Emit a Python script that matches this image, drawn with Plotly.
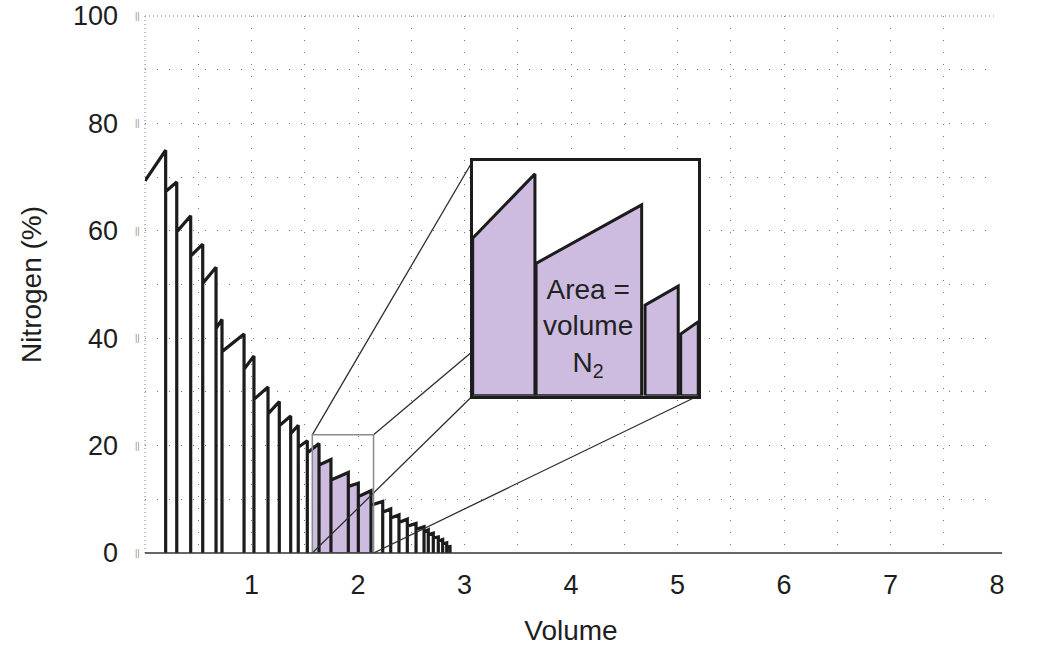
import plotly.graph_objects as go

# ---------------- data ----------------
# breath boundaries along the expired volume axis
breath_x = [0, 0.194, 0.298, 0.429, 0.542, 0.667, 0.723, 0.930, 1.023, 1.155,
            1.261, 1.368, 1.439, 1.524, 1.634, 1.746, 1.909, 2.003, 2.122, 2.232,
            2.307, 2.385, 2.463, 2.545, 2.620, 2.660, 2.707, 2.754, 2.795, 2.833, 2.864]
# N2 concentration at the start and end of each breath (%)
start_n2 = [69.3, 67.3, 59.8, 55.3, 50.2, 41.8, 37.5, 34.2, 28.6, 25.9,
            23.7, 22.2, 19.7, 18.6, 16.4, 13.6, 12.4, 10.5, 8.9, 7.6,
            6.5, 5.7, 5.0, 4.4, 3.9, 3.4, 2.8, 2.2, 1.7, 1.1]
end_n2 = [75.0, 69.1, 62.8, 57.5, 53.2, 43.5, 40.8, 36.7, 30.9, 28.2,
          25.5, 23.8, 20.9, 20.4, 17.4, 15.0, 13.0, 11.6, 9.6, 8.2,
          7.1, 6.3, 5.5, 4.9, 4.3, 3.7, 3.0, 2.5, 1.9, 1.2]

# magnified window
zoom_x0, zoom_x1, zoom_ytop = 1.571, 2.146, 22.0
shade_x0, shade_x1 = 1.571, 2.122

# stylised inset (its own 0-100 units)
inset_left = [0, 28.1, 76.4, 92.2]
inset_right = [27.6, 74.9, 91.1, 100]
inset_start = [67.1, 56.4, 38.6, 26.3]
inset_end = [94.5, 81.3, 46.7, 31.5]

x_ticks = [1, 2, 3, 4, 5, 6, 7, 8]
y_ticks = [0, 20, 40, 60, 80, 100]

# ---------------- layout constants ----------------
X_RANGE = [0, 8]
Y_RANGE = [0, 100]
INSET_DX = [0.3846, 0.6494]
INSET_DY = [0.2929, 0.730]
FONT = "Liberation Sans, Arial, Helvetica, sans-serif"
PURPLE = "#cdbce0"
INK = "#1c1c1c"
GRID = "#7a7a7a"

fig = go.Figure()

# shaded area under the curve in the magnified window
n = len(start_n2)
fx, fy = [shade_x0], [0]
for i in range(n):
    a, b = breath_x[i], breath_x[i + 1]
    if b <= shade_x0 or a >= shade_x1:
        continue
    xa = max(a, shade_x0)
    va = start_n2[i] + (end_n2[i] - start_n2[i]) * (xa - a) / (b - a)
    fx.append(xa); fy.append(va)
    xb = min(b, shade_x1)
    vb = start_n2[i] + (end_n2[i] - start_n2[i]) * (xb - a) / (b - a)
    fx.append(xb); fy.append(vb)
fx.append(fx[-1]); fy.append(0)
fig.add_trace(go.Scatter(x=fx, y=fy, fill="toself", fillcolor=PURPLE,
                         mode="lines", line=dict(width=0), hoverinfo="skip",
                         showlegend=False))

# saw-tooth washout curve
sx, sy = [breath_x[0]], [start_n2[0]]
for i in range(n):
    sx += [breath_x[i + 1], breath_x[i + 1]]
    sy += [end_n2[i], 0]
    if i + 1 < n:
        sx.append(breath_x[i + 1]); sy.append(start_n2[i + 1])
fig.add_trace(go.Scatter(x=sx, y=sy, mode="lines",
                         line=dict(color=INK, width=3.2), showlegend=False,
                         hoverinfo="skip"))

# connector lines from the window to the inset
def to_data_x(p):
    return X_RANGE[0] + p * (X_RANGE[1] - X_RANGE[0])

def to_data_y(p):
    return Y_RANGE[0] + p * (Y_RANGE[1] - Y_RANGE[0])

ix0, ix1 = to_data_x(INSET_DX[0]), to_data_x(INSET_DX[1])
iy0, iy1 = to_data_y(INSET_DY[0]), to_data_y(INSET_DY[1])
cx = [zoom_x0, ix0, None, zoom_x1, ix1, None, zoom_x0, ix0, None, zoom_x1, ix1]
cy = [zoom_ytop, iy1, None, zoom_ytop, iy1, None, 0, iy0, None, 0, iy0]
fig.add_trace(go.Scatter(x=cx, y=cy, mode="lines",
                         line=dict(color="#2e2e2e", width=1.3),
                         showlegend=False, hoverinfo="skip"))

# inset pieces
for l, r, s, e in zip(inset_left, inset_right, inset_start, inset_end):
    fig.add_trace(go.Scatter(x=[l, l, r, r, l], y=[0, s, e, 0, 0],
                             fill="toself", fillcolor=PURPLE, mode="lines",
                             line=dict(color=INK, width=3),
                             xaxis="x2", yaxis="y2", showlegend=False,
                             hoverinfo="skip"))

fig.add_annotation(x=51, y=29, xref="x2", yref="y2",
                   text="Area =<br>volume<br>N<sub>2</sub>", showarrow=False,
                   font=dict(family=FONT, size=28, color="#222222"),
                   align="center", yanchor="middle", xanchor="center")

# small window rectangle
fig.add_shape(type="rect", xref="x", yref="y", x0=zoom_x0, x1=zoom_x1,
              y0=0, y1=zoom_ytop, line=dict(color="#8a8a8a", width=1.5),
              layer="above")

# left & top dotted border, baseline
fig.add_shape(type="line", xref="paper", yref="paper", x0=0, x1=0, y0=0, y1=1,
              line=dict(color=GRID, width=1, dash="1px,3px"), layer="below")
fig.add_shape(type="line", xref="paper", yref="paper", x0=0, x1=1, y0=1, y1=1,
              line=dict(color=GRID, width=1, dash="1px,3px"), layer="below")
fig.add_shape(type="line", xref="paper", yref="paper", x0=0, x1=1.006, y0=0, y1=0,
              line=dict(color="#333333", width=1.6), layer="above")

# small double tick marks beside the y labels
for v in y_ticks:
    fig.add_annotation(x=-0.009, y=v, xref="paper", yref="y", text="||",
                       showarrow=False, font=dict(family=FONT, size=9, color="#8f8f8f"),
                       xanchor="center", yanchor="middle")

grid_common = dict(showgrid=True, gridcolor=GRID, gridwidth=1.4, griddash="1px,11px")

fig.update_layout(
    width=1038, height=646, autosize=False,
    margin=dict(l=145, r=41, t=16, b=93, autoexpand=False),
    paper_bgcolor="white", plot_bgcolor="white",
    font=dict(family=FONT, color="#222222"),
    showlegend=False,
    xaxis=dict(range=X_RANGE, tickvals=x_ticks, ticktext=[str(t) for t in x_ticks],
               tickfont=dict(size=27, color="#1e1e1e"), ticks="",
               ticklabelstandoff=13, zeroline=False, showline=False,
               automargin=False, ticklabeloverflow="allow",
               minor=dict(dtick=0.5, tick0=0, **grid_common),
               title=dict(text="Volume", font=dict(size=28, color="#1e1e1e"),
                          standoff=23),
               **grid_common),
    yaxis=dict(range=Y_RANGE, tickvals=y_ticks, ticktext=[str(t) for t in y_ticks],
               tickfont=dict(size=27, color="#1e1e1e"), ticks="",
               ticklabelstandoff=26, zeroline=False, showline=False,
               automargin=False, ticklabeloverflow="allow",
               minor=dict(dtick=10, tick0=0, **grid_common),
               title=dict(text="Nitrogen (%)", font=dict(size=28, color="#1e1e1e"),
                          standoff=23),
               **grid_common),
    xaxis2=dict(domain=INSET_DX, anchor="y2", range=[0, 100], showgrid=False,
                zeroline=False, showticklabels=False, ticks="", showline=True,
                mirror=True, linecolor=INK, linewidth=3, automargin=False),
    yaxis2=dict(domain=INSET_DY, anchor="x2", range=[0, 100], showgrid=False,
                zeroline=False, showticklabels=False, ticks="", showline=True,
                mirror=True, linecolor=INK, linewidth=3, automargin=False),
)

# place the figure flush with the page corner (no default body margin)
fig.write_html("out.html", config={"displayModeBar": False},
               post_script="document.body.style.margin='0px';")
